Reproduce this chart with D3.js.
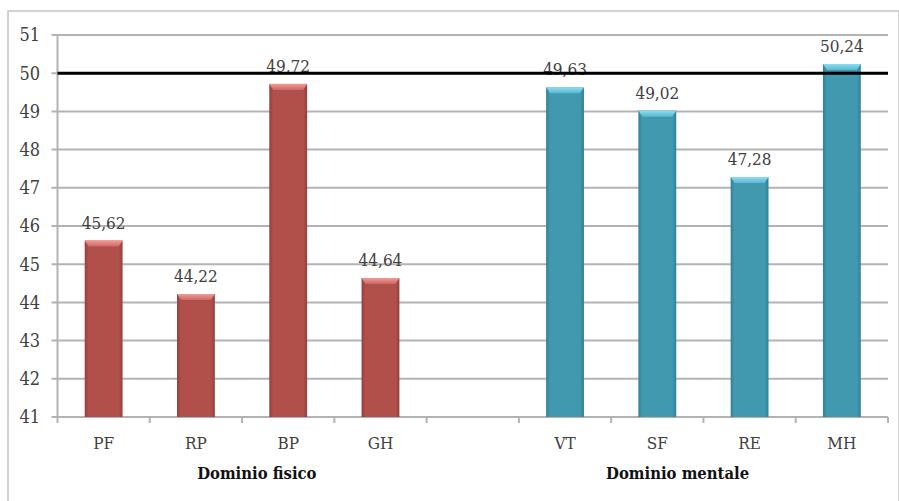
<!DOCTYPE html>
<html>
<head>
<meta charset="utf-8">
<script src="https://cdn.jsdelivr.net/npm/d3@7"></script>
<style>
  html, body { margin: 0; padding: 0; background: #fff; }
  svg { display: block; }
</style>
</head>
<body>
<svg id="chart" width="899" height="501"></svg>
<script>
// Category slots along the x axis (an empty slot separates the two domains)
const categories = ["PF", "RP", "BP", "GH", "", "VT", "SF", "RE", "MH"];
const fisicoLabels = ["PF", "RP", "BP", "GH"];
const fisicoValues = [45.62, 44.22, 49.72, 44.64];
const mentaleLabels = ["VT", "SF", "RE", "MH"];
const mentaleValues = [49.63, 49.02, 47.28, 50.24];
const yTicks = [41, 42, 43, 44, 45, 46, 47, 48, 49, 50, 51];
const referenceValue = 50;
const groupNames = ["Dominio fisico", "Dominio mentale"];

const svg = d3.select("#chart");
const W = 899, H = 501;
const margin = { left: 57.5, right: 11, top: 35, bottom: 84 };

const x = d3.scaleBand()
  .domain(categories.map((c, i) => i))
  .range([margin.left, W - margin.right])
  .paddingInner(0).paddingOuter(0);
const y = d3.scaleLinear().domain([41, 51]).range([H - margin.bottom, margin.top]);

const serif = "'DejaVu Serif Condensed', 'DejaVu Serif', serif";
const textColor = "#404040";

// outer frame
svg.append("rect")
  .attr("x", 8).attr("y", 11).attr("width", W - 8).attr("height", H)
  .attr("fill", "none").attr("stroke", "#c4c4c4").attr("stroke-width", 1.5);

// gradients for the bevelled bars
const defs = svg.append("defs");
function barGradients(id, edge, base, topLight, topDark) {
  const g = defs.append("linearGradient").attr("id", id + "-body")
    .attr("x1", "0").attr("x2", "1").attr("y1", "0").attr("y2", "0");
  g.append("stop").attr("offset", "0").attr("stop-color", edge);
  g.append("stop").attr("offset", "0.1").attr("stop-color", base);
  g.append("stop").attr("offset", "0.9").attr("stop-color", base);
  g.append("stop").attr("offset", "1").attr("stop-color", edge);
  const t = defs.append("linearGradient").attr("id", id + "-top")
    .attr("x1", "0").attr("x2", "0").attr("y1", "0").attr("y2", "1");
  t.append("stop").attr("offset", "0").attr("stop-color", topLight);
  t.append("stop").attr("offset", "1").attr("stop-color", topDark);
}
barGradients("red", "#93403d", "#b14f4b", "#f29b98", "#cd6764");
barGradients("teal", "#2f7f93", "#4199b0", "#8fdcef", "#5ab7cf");

// horizontal grid lines
const yAxisG = svg.append("g");
yAxisG.selectAll("line.grid").data(yTicks).join("line")
  .attr("class", "grid")
  .attr("x1", margin.left - 6).attr("x2", W - margin.right)
  .attr("y1", d => y(d)).attr("y2", d => y(d))
  .attr("stroke", "#b3b3b3").attr("stroke-width", 2);

// y axis line
svg.append("line")
  .attr("x1", margin.left).attr("x2", margin.left)
  .attr("y1", y(51)).attr("y2", y(41))
  .attr("stroke", "#b3b3b3").attr("stroke-width", 2);

// y tick labels
yAxisG.selectAll("text").data(yTicks).join("text")
  .attr("x", 40).attr("y", d => y(d)).attr("dy", "0.35em")
  .attr("text-anchor", "end")
  .attr("font-family", serif).attr("font-size", 18)
  .attr("fill", textColor)
  .text(d => d);

// x tick marks at band boundaries
const boundaries = categories.map((c, i) => x(i)).concat([x(categories.length - 1) + x.bandwidth()]);
svg.append("g").selectAll("line").data(boundaries).join("line")
  .attr("x1", d => d).attr("x2", d => d)
  .attr("y1", y(41)).attr("y2", y(41) + 6)
  .attr("stroke", "#b3b3b3").attr("stroke-width", 2);

// x category labels
svg.append("g").selectAll("text").data(categories).join("text")
  .attr("x", (d, i) => x(i) + x.bandwidth() / 2)
  .attr("y", y(41) + 32)
  .attr("text-anchor", "middle")
  .attr("font-family", serif).attr("font-size", 17)
  .attr("fill", textColor)
  .text(d => d);

// group labels
const groupPos = [2.16, 6.72];
svg.append("g").selectAll("text").data(groupNames).join("text")
  .attr("x", (d, i) => margin.left + groupPos[i] * x.bandwidth())
  .attr("y", y(41) + 62)
  .attr("text-anchor", "middle")
  .attr("font-family", serif).attr("font-size", 16.5).attr("font-weight", "bold")
  .attr("fill", "#111")
  .text(d => d);

// bar data
const bars = fisicoLabels.map((c, i) => ({ cat: c, v: fisicoValues[i], g: "red" }))
  .concat(mentaleLabels.map((c, i) => ({ cat: c, v: mentaleValues[i], g: "teal" })));

const barW = x.bandwidth() * 0.41;
const bev = 6;
const barG = svg.append("g");
bars.forEach(b => {
  const idx = categories.indexOf(b.cat);
  const cx = x(idx) + x.bandwidth() / 2;
  const x0 = cx - barW / 2, x1 = cx + barW / 2;
  const yt = y(b.v), yb = y(41);
  const g = barG.append("g");
  g.append("rect")
    .attr("x", x0).attr("y", yt).attr("width", barW).attr("height", yb - yt)
    .attr("fill", `url(#${b.g}-body)`);
  g.append("polygon")
    .attr("points", [[x0, yt], [x1, yt], [x1 - 4, yt + bev], [x0 + 4, yt + bev]].map(p => p.join(",")).join(" "))
    .attr("fill", `url(#${b.g}-top)`);
  // value label
  g.append("text")
    .attr("x", cx).attr("y", yt - 12)
    .attr("text-anchor", "middle")
    .attr("font-family", serif).attr("font-size", 17)
    .attr("fill", textColor)
    .text(d3.format(".2f")(b.v).replace(".", ","));
});

// reference line at 50
svg.append("line")
  .attr("x1", margin.left).attr("x2", W - margin.right)
  .attr("y1", y(referenceValue)).attr("y2", y(referenceValue))
  .attr("stroke", "#000").attr("stroke-width", 3);
</script>
</body>
</html>
